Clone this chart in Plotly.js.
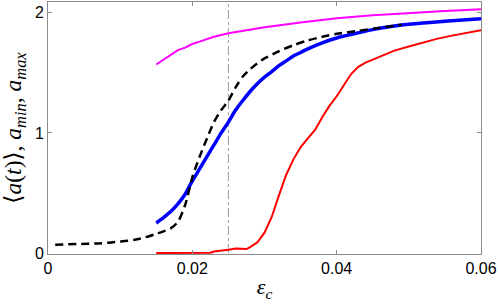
<!DOCTYPE html>
<html>
<head>
<meta charset="utf-8">
<script src="https://cdn.plot.ly/plotly-3.0.1.min.js"></script>
<style>html,body{margin:0;padding:0;background:#fff;}#chart{width:498px;height:308px;}</style>
</head>
<body>
<div id="chart"></div>
<script>
// x = epsilon_c, y = a
const magentaX = [0.015,0.016,0.017,0.018,0.019,0.020,0.021,0.022,0.023,0.025,0.027,0.030,0.035,0.040,0.045,0.050,0.055,0.060];
const magentaY = [1.57,1.61,1.65,1.69,1.71,1.74,1.76,1.78,1.80,1.83,1.85,1.88,1.92,1.955,1.98,2.00,2.015,2.03];

const blueX = [0.015,0.016,0.017,0.018,0.019,0.020,0.021,0.022,0.023,0.024,0.025,0.026,0.027,0.028,0.029,0.030,0.031,0.032,0.033,0.034,0.035,0.036,0.038,0.040,0.042,0.045,0.048,0.050,0.055,0.060];
const blueY = [0.25,0.295,0.345,0.41,0.49,0.60,0.70,0.80,0.90,1.00,1.09,1.19,1.27,1.345,1.41,1.465,1.51,1.56,1.60,1.64,1.67,1.70,1.75,1.79,1.82,1.86,1.89,1.905,1.93,1.95];

const blackX = [0.001,0.004,0.007,0.010,0.012,0.014,0.015,0.016,0.017,0.018,0.019,0.020,0.021,0.022,0.023,0.024,0.025,0.026,0.027,0.028,0.029,0.030,0.032,0.034,0.036,0.038,0.040,0.043,0.046,0.049];
const blackY = [0.07,0.075,0.08,0.095,0.11,0.14,0.16,0.18,0.205,0.26,0.40,0.63,0.80,0.95,1.09,1.19,1.27,1.38,1.47,1.53,1.58,1.62,1.68,1.73,1.77,1.80,1.825,1.85,1.875,1.90];

const redX = [0.015,0.018,0.022,0.0225,0.023,0.024,0.025,0.026,0.027,0.0275,0.028,0.029,0.030,0.031,0.032,0.033,0.034,0.035,0.036,0.037,0.038,0.039,0.040,0.041,0.042,0.043,0.044,0.045,0.046,0.048,0.050,0.052,0.054,0.056,0.058,0.060];
const redY = [0,0,0,0.003,0.012,0.018,0.028,0.038,0.032,0.033,0.05,0.088,0.17,0.30,0.48,0.65,0.78,0.88,0.955,1.025,1.13,1.225,1.305,1.40,1.49,1.55,1.585,1.61,1.635,1.685,1.72,1.755,1.785,1.81,1.835,1.855];

const vlineX = [0.025, 0.025];
const vlineY = [0, 2.09];

const xTicks = [0, 0.02, 0.04, 0.06];
const xTickText = ['0', '0.02', '0.04', '0.06'];
const yTicks = [0, 1, 2];
const yTickText = ['0', '1', '2'];

const traces = [
  {x: vlineX, y: vlineY, mode: 'lines', line: {color: '#9a9a9a', width: 1, dash: 'dashdot'}, showlegend: false, hoverinfo: 'skip'},
  {x: magentaX, y: magentaY, mode: 'lines', line: {color: '#ff00ff', width: 2}, showlegend: false},
  {x: redX, y: redY, mode: 'lines', line: {color: '#ff0000', width: 2}, showlegend: false},
  {x: blueX, y: blueY, mode: 'lines', line: {color: '#0000ff', width: 3.5, shape: 'spline', smoothing: 0.8}, showlegend: false},
  {x: blackX, y: blackY, mode: 'lines', line: {color: '#000000', width: 2.5, dash: '8px,5px', shape: 'spline', smoothing: 0.8}, showlegend: false}
];

const axisCommon = {
  showline: true, mirror: 'ticks', linecolor: '#8c8c8c', linewidth: 1,
  ticks: 'inside', ticklen: 4, tickcolor: '#8c8c8c', tickwidth: 1,
  showgrid: false, zeroline: false,
  tickfont: {family: 'Liberation Sans, Arial, sans-serif', size: 16, color: '#000'}
};

const layout = {
  width: 498, height: 308,
  margin: {l: 48, r: 17, t: 2, b: 54},
  paper_bgcolor: '#fff', plot_bgcolor: '#fff',
  showlegend: false,
  xaxis: Object.assign({}, axisCommon, {
    range: [0, 0.06], tickvals: xTicks, ticktext: xTickText,
    title: {text: '<i>ε</i><sub><i>c</i></sub>', font: {family: 'Liberation Serif, DejaVu Serif, serif', size: 22, color: '#000'}, standoff: 2}
  }),
  yaxis: Object.assign({}, axisCommon, {
    range: [-0.008, 2.09], tickvals: yTicks, ticktext: yTickText,
    title: {text: '⟨<i>a</i>(<i>t</i>)⟩, <i>a</i><sub><i>min</i></sub>, <i>a</i><sub><i>max</i></sub>', font: {family: 'Liberation Serif, DejaVu Serif, serif', size: 23.5, color: '#000'}, standoff: 6}
  })
};

Plotly.newPlot('chart', traces, layout, {displayModeBar: false, staticPlot: true});
</script>
</body>
</html>
